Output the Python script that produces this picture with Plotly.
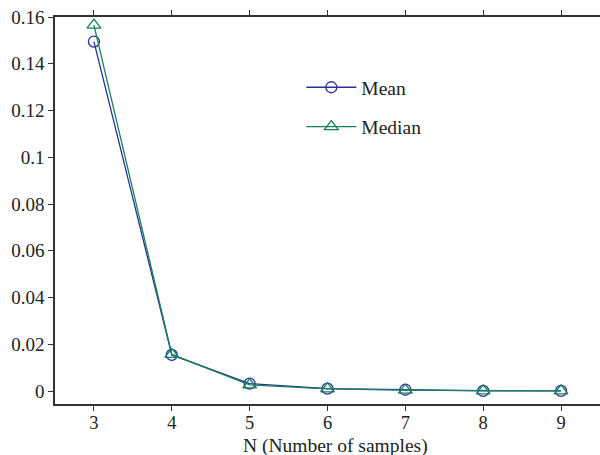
import plotly.graph_objects as go

n_samples = [3, 4, 5, 6, 7, 8, 9]
mean_vals = [0.1495, 0.0155, 0.0032, 0.0011, 0.0006, 0.0001, 0.0001]
median_vals = [0.1565, 0.0157, 0.0027, 0.0010, 0.0004, 0.0001, 0.0001]
y_ticks = [0, 0.02, 0.04, 0.06, 0.08, 0.1, 0.12, 0.14, 0.16]
y_tick_labels = ["0", "0.02", "0.04", "0.06", "0.08", "0.1", "0.12", "0.14", "0.16"]
x_title = "N (Number of samples)"

mean_color = "#2b2f98"
median_color = "#16805c"

fig = go.Figure()
fig.add_trace(go.Scatter(
    x=n_samples, y=mean_vals, name="Mean", mode="lines+markers", legendgroup="a",
    line=dict(color=mean_color, width=1.3),
    marker=dict(symbol="circle-open", size=11, color=mean_color, line=dict(width=1.3)),
))
fig.add_trace(go.Scatter(
    x=n_samples, y=median_vals, name="Median", mode="lines+markers", legendgroup="b",
    line=dict(color=median_color, width=1.3),
    marker=dict(symbol="triangle-up-open", size=12, color=median_color, line=dict(width=1.3)),
))

font_family = "Liberation Serif"
fig.update_layout(
    width=600, height=455,
    margin=dict(l=55, r=0, t=17, b=51),
    paper_bgcolor="white", plot_bgcolor="white",
    font=dict(family=font_family, size=19, color="#222"),
    showlegend=True,
    legend=dict(x=0.452, y=0.868, xanchor="left", yanchor="top",
                bgcolor="rgba(0,0,0,0)", itemwidth=50, traceorder="grouped",
                font=dict(family=font_family, size=19.5, color="#222"),
                tracegroupgap=11),
    xaxis=dict(
        range=[2.5, 9.5], tickvals=n_samples, ticks="outside", ticklen=5,
        tickcolor="#333", showline=True, linecolor="#333", linewidth=1.5,
        mirror="ticks", showgrid=False, zeroline=False,
        tickfont=dict(size=18.5), ticklabelstandoff=-4,
    ),
    yaxis=dict(
        range=[-0.0055, 0.16], tickvals=y_ticks, ticktext=y_tick_labels,
        ticks="outside", ticklen=5, tickcolor="#333", showline=True,
        linecolor="#333", linewidth=1.5, showgrid=False, zeroline=False,
        tickfont=dict(size=19),
    ),
    annotations=[dict(
        text=x_title, xref="paper", yref="paper", x=(335 - 55) / 545, y=(404 - 446) / 387,
        xanchor="center", yanchor="middle", showarrow=False,
        font=dict(family=font_family, size=19.5, color="#222"),
    )],
)
fig.write_html("out.html")
